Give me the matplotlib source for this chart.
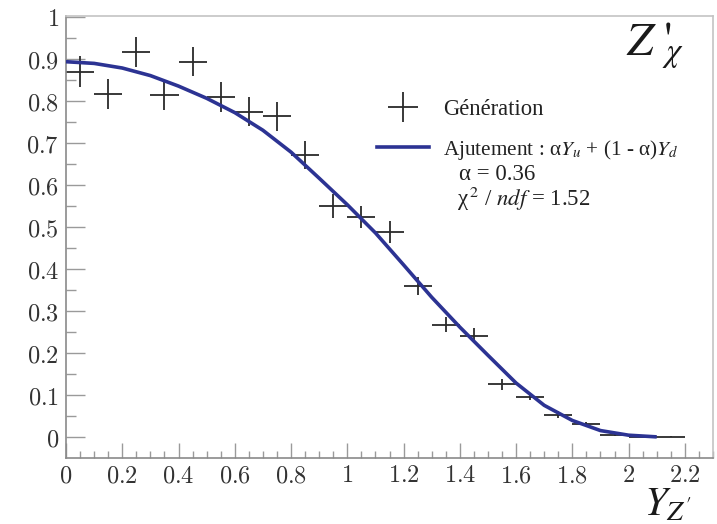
import matplotlib
matplotlib.use("Agg")
import matplotlib.pyplot as plt
from matplotlib.ticker import MultipleLocator, FuncFormatter
from matplotlib.lines import Line2D

# ---- data ----
bin_centers = [0.05, 0.15, 0.25, 0.35, 0.45, 0.55, 0.65, 0.75, 0.85, 0.95, 1.05,
               1.15, 1.25, 1.35, 1.45, 1.55, 1.65, 1.75, 1.85, 1.95, 2.05, 2.15]
bin_halfwidth = [0.05] * len(bin_centers)
gen_values = [0.869, 0.817, 0.916, 0.814, 0.893, 0.809, 0.774, 0.763, 0.671, 0.550, 0.524,
              0.489, 0.360, 0.268, 0.242, 0.126, 0.097, 0.054, 0.031, 0.006, 0.0015, 0.0015]
gen_errors = [0.037, 0.036, 0.036, 0.035, 0.034, 0.035, 0.035, 0.034, 0.033, 0.029, 0.027,
              0.026, 0.022, 0.017, 0.018, 0.013, 0.009, 0.008, 0.006, 0.003, 0.001, 0.001]

fit_x = [0.0, 0.1, 0.2, 0.3, 0.4, 0.5, 0.6, 0.7, 0.8, 0.9, 1.0,
         1.1, 1.2, 1.3, 1.4, 1.5, 1.6, 1.7, 1.8, 1.9, 2.0, 2.1]
fit_y = [0.893, 0.889, 0.878, 0.860, 0.835, 0.806, 0.772, 0.730, 0.678, 0.616, 0.553,
         0.486, 0.410, 0.333, 0.262, 0.195, 0.129, 0.076, 0.040, 0.016, 0.005, 0.001]

x_ticks = [0, 0.2, 0.4, 0.6, 0.8, 1, 1.2, 1.4, 1.6, 1.8, 2, 2.2]
y_ticks = [0, 0.1, 0.2, 0.3, 0.4, 0.5, 0.6, 0.7, 0.8, 0.9, 1]

legend_labels = ["Génération", r"Ajutement : α$Y_{u}$ + (1 - α)$Y_{d}$"]
fit_params = [r"α = 0.36", r"χ$^{\,2}$ / $ndf$ = 1.52"]

# ---- figure ----
plt.rcParams['mathtext.fontset'] = 'cm'
W, H = 717, 524
fig = plt.figure(figsize=(W / 100, H / 100), dpi=100)
ax = fig.add_axes([66 / W, 1 - 457.7 / H, (713 - 66) / W, (457.7 - 15.7) / H])

curve_color = '#2c3393'
cross_color = '#2a2a2a'

ax.errorbar(bin_centers, gen_values, xerr=bin_halfwidth, yerr=gen_errors, fmt='none',
            ecolor=cross_color, elinewidth=1.3, capsize=0, zorder=2)
ax.plot(fit_x, fit_y, color=curve_color, lw=2.6, solid_capstyle='butt', zorder=3)

ax.set_xlim(0, 2.3)
ax.set_ylim(-0.0485, 1.0024)

ax.set_xticks(x_ticks)
ax.set_yticks(y_ticks)
ax.xaxis.set_minor_locator(MultipleLocator(0.05))
ax.yaxis.set_minor_locator(MultipleLocator(0.05))
fmt = FuncFormatter(lambda v, p: r"$\mathrm{%g}$" % round(v, 3))
ax.xaxis.set_major_formatter(fmt)
ax.yaxis.set_major_formatter(fmt)

ax.tick_params(which='both', direction='in', top=False, right=False, color='#9a9a9a', width=1.0,
               labelsize=17.5, labelcolor='#333333')
ax.tick_params(axis='y', which='major', length=14, pad=5)
ax.tick_params(axis='y', which='minor', length=7)
ax.tick_params(axis='x', which='major', length=10.5, pad=4)
ax.tick_params(axis='x', which='minor', length=5)
for lab in ax.get_xticklabels() + ax.get_yticklabels():
    lab.set_math_fontfamily('cm')

for side in ['left', 'bottom']:
    ax.spines[side].set_color('#8a8a8a')
    ax.spines[side].set_linewidth(1.2)
for side in ['top', 'right']:
    ax.spines[side].set_color('#c4c4c4')
    ax.spines[side].set_linewidth(1.2)

# legend
handles = [Line2D([], [], marker='+', markersize=21, markeredgewidth=1.3, color=cross_color, linestyle='none'),
           Line2D([], [], color=curve_color, lw=2.6)]
leg = ax.legend(handles, legend_labels, loc='upper left', bbox_to_anchor=(377 / W, 1 - 99 / H),
                bbox_transform=fig.transFigure, frameon=False, handlelength=2.3, handletextpad=0.6,
                labelspacing=0.8, borderpad=0, borderaxespad=0,
                prop={'family': 'Liberation Serif', 'size': 16.3})
for t in leg.get_texts():
    t.set_math_fontfamily('stix')
    t.set_color('#222222')
leg.get_texts()[1].set_fontsize(15.3)

fig.text(459 / W, 1 - 175 / H, fit_params[0], fontsize=16.5, family='Liberation Serif',
         math_fontfamily='stix', va='center', ha='left', color='#222222')
fig.text(457 / W, 1 - 199 / H, fit_params[1], fontsize=16.5, family='Liberation Serif',
         math_fontfamily='stix', va='center', ha='left', color='#222222')

# titles
fig.text(626 / W, 1 - 56 / H, r"$Z\,\,'_{\!\!\chi}$", fontsize=34, math_fontfamily='stix',
         ha='left', va='baseline', color='#1a1a1a')
fig.text(644 / W, 1 - 516 / H, r"$Y_{Z'}$", fontsize=29, math_fontfamily='stix',
         ha='left', va='baseline', color='#1a1a1a')

fig.savefig('out.png', dpi=100)
